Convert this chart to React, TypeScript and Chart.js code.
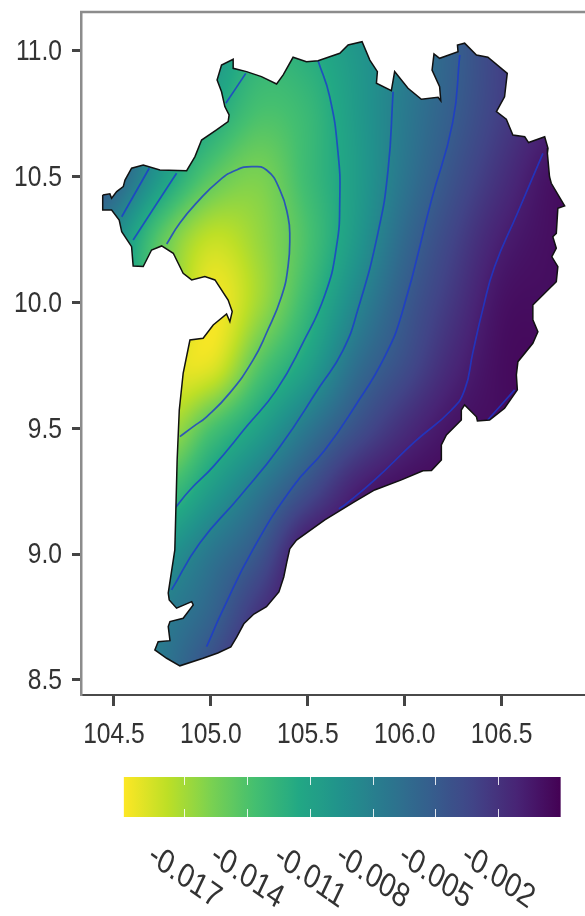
import React, { useEffect, useRef } from "react";
import { Chart, registerables } from "chart.js";

Chart.register(...registerables);

const xTicks = [104.5, 105.0, 105.5, 106.0, 106.5];
const yTicks = [8.5, 9.0, 9.5, 10.0, 10.5, 11.0];
const legendTicks = [-0.017, -0.014, -0.011, -0.008, -0.005, -0.002];
const legendMin = -0.0199;
const legendMax = 0.001;

const outlineLon = [104.442,104.479,104.488,104.514,104.548,104.557,104.591,104.651,104.737,104.875,104.918,104.952,105.029,105.089,105.094,105.072,105.055,105.032,105.055,105.115,105.115,105.184,105.261,105.339,105.373,105.424,105.493,105.553,105.665,105.708,105.780,105.820,105.859,105.854,105.931,105.948,106.017,106.086,106.172,106.186,106.180,106.141,106.151,106.180,106.275,106.272,106.309,106.370,106.429,106.529,106.515,106.473,106.524,106.558,106.619,106.639,106.722,106.739,106.736,106.747,106.756,106.825,106.790,106.782,106.764,106.782,106.759,106.790,106.782,106.661,106.661,106.687,106.661,106.584,106.576,106.581,106.515,106.438,106.375,106.370,106.309,106.292,106.292,106.215,106.189,106.189,106.138,106.094,105.983,105.845,105.742,105.588,105.442,105.407,105.392,105.376,105.351,105.287,105.222,105.170,105.134,105.103,105.036,104.960,104.840,104.772,104.711,104.728,104.789,104.780,104.789,104.857,104.909,104.901,104.823,104.785,104.780,104.814,104.826,104.837,104.857,104.892,104.960,105.012,105.081,105.098,105.110,105.089,105.021,104.969,104.901,104.857,104.806,104.746,104.694,104.651,104.599,104.591,104.540,104.527,104.488,104.442,104.442];
const outlineLat = [10.428,10.432,10.415,10.441,10.461,10.487,10.534,10.547,10.527,10.524,10.580,10.646,10.686,10.719,10.746,10.779,10.838,10.885,10.944,10.967,10.931,10.918,10.898,10.869,10.905,10.975,10.957,10.961,10.991,11.024,11.037,10.964,10.918,10.872,10.842,10.918,10.852,10.808,10.816,10.802,10.858,10.924,10.988,10.971,10.997,11.024,11.031,10.984,10.975,10.911,10.818,10.759,10.729,10.666,10.659,10.636,10.659,10.613,10.593,10.500,10.474,10.384,10.375,10.275,10.262,10.216,10.182,10.143,10.083,9.990,9.931,9.884,9.838,9.765,9.712,9.653,9.580,9.533,9.529,9.546,9.593,9.573,9.533,9.474,9.434,9.374,9.332,9.331,9.295,9.255,9.209,9.136,9.056,9.021,8.969,8.909,8.850,8.791,8.762,8.723,8.671,8.631,8.607,8.586,8.556,8.586,8.619,8.652,8.656,8.712,8.732,8.745,8.798,8.811,8.785,8.818,8.845,9.017,9.374,9.573,9.719,9.851,9.858,9.911,9.955,9.924,9.964,10.010,10.090,10.103,10.090,10.116,10.196,10.225,10.209,10.143,10.145,10.222,10.282,10.328,10.368,10.368,10.428];

const contour1Lon = [104.772,104.840,104.926,105.046,105.132,105.210,105.287,105.356,105.398,105.407,105.398,105.364,105.287,105.218,105.098,104.978,104.909,104.840];
const contour1Lat = [10.233,10.316,10.396,10.487,10.527,10.540,10.527,10.448,10.341,10.262,10.143,10.023,9.879,9.772,9.641,9.546,9.507,9.467];
const contour2Lon = [105.553,105.613,105.656,105.665,105.648,105.588,105.474,105.339,105.184,105.012,104.892,104.814];
const contour2Lat = [10.961,10.818,10.595,10.408,10.222,10.030,9.839,9.653,9.507,9.348,9.255,9.182];
const contour2bLon = [104.823,104.599];
const contour2bLat = [10.514,10.249];
const contour2cLon = [105.180,105.077];
const contour2cLat = [10.911,10.792];
const contour3Lon = [105.940,105.914,105.862,105.758,105.680,105.562,105.356,105.149,104.943,104.797];
const contour3Lat = [10.838,10.527,10.277,9.971,9.808,9.666,9.427,9.229,9.044,8.858];
const contour3bLon = [104.682,104.540];
const contour3bLat = [10.534,10.341];
const contour4Lon = [106.284,106.247,106.138,105.991,105.897,105.742,105.588,105.423,105.216,105.062,104.978];
const contour4Lat = [10.984,10.714,10.408,9.971,9.785,9.586,9.414,9.268,9.017,8.778,8.632];
const contour5Lon = [106.713,106.582,106.464,106.402,106.351,106.309,106.241,106.052,105.845,105.691,105.660];
const contour5Lat = [10.593,10.356,10.143,9.971,9.800,9.653,9.573,9.447,9.295,9.196,9.180];
const contour6Lon = [106.567,106.428];
const contour6Lat = [9.653,9.533];

const fieldLons = [104.25,104.5,104.75,105.0,105.25,105.5,105.75,106.0,106.25,106.5,106.75,107.0];
const fieldLats = [11.25,11.0,10.75,10.5,10.25,10.0,9.75,9.5,9.25,9.0,8.75,8.5];
const row1125 = [0,-0.002,-0.004,-0.007,-0.0095,-0.01,-0.0085,-0.007,-0.005,-0.003,-0.001,0];
const row1100 = [-0.001,-0.003,-0.006,-0.0095,-0.0122,-0.0119,-0.00995,-0.0077,-0.0054,-0.003,-0.001,0];
const row1075 = [-0.003,-0.005,-0.0088,-0.0114,-0.0138,-0.013,-0.0103,-0.0075,-0.0051,-0.0028,-0.001,-0.0005];
const row1050 = [-0.003,-0.0055,-0.0105,-0.0144,-0.0157,-0.0132,-0.0105,-0.0071,-0.0043,-0.0019,0,0.0005];
const row1025 = [-0.005,-0.009,-0.0147,-0.018,-0.0166,-0.0138,-0.0101,-0.0061,-0.0032,-0.0008,0.0002,0.0005];
const row1000 = [-0.006,-0.01,-0.015,-0.0195,-0.0169,-0.0129,-0.0086,-0.005,-0.0023,0,0.0003,0.0005];
const row975 = [-0.007,-0.012,-0.018,-0.019,-0.0143,-0.0109,-0.0066,-0.0039,-0.0013,0.0003,0.0005,0.0005];
const row950 = [-0.008,-0.013,-0.0172,-0.0139,-0.0108,-0.0073,-0.0042,-0.0017,-0.0001,0.0003,0.0005,0.0005];
const row925 = [-0.008,-0.013,-0.0136,-0.0104,-0.0072,-0.0039,-0.0008,0.0003,0.0005,0.0005,0.0005,0.0005];
const row900 = [-0.009,-0.012,-0.01,-0.0072,-0.0045,0,0.0005,0.0005,0.0005,0.0005,0.0005,0.0005];
const row875 = [-0.009,-0.0105,-0.0079,-0.0056,-0.002,0.0003,0.0005,0.0005,0.0005,0.0005,0.0005,0.0005];
const row850 = [-0.009,-0.01,-0.0072,-0.0037,-0.0005,0.0005,0.0005,0.0005,0.0005,0.0005,0.0005,0.0005];
const fieldRows = [row1125,row1100,row1075,row1050,row1025,row1000,row975,row950,row925,row900,row875,row850];

const viridis = ["#440154","#482475","#414487","#355f8d","#2a788e","#21918c","#22a884","#44bf70","#7ad151","#bddf26","#fde725"];
const viridisRgb = viridis.map((h) => [parseInt(h.slice(1,3),16),parseInt(h.slice(3,5),16),parseInt(h.slice(5,7),16)]);

const FONT = '"Liberation Sans",Arial,sans-serif';
const INK = "#333333";
const SQUEEZE = 0.82;

function colorAt(v: number) {
  const t = Math.max(0, Math.min(1, (legendMax - v) / (legendMax - legendMin))) * (viridisRgb.length - 1);
  const i = Math.min(viridisRgb.length - 2, Math.floor(t));
  const f = t - i;
  const a = viridisRgb[i], b = viridisRgb[i + 1];
  return [a[0] + (b[0] - a[0]) * f, a[1] + (b[1] - a[1]) * f, a[2] + (b[2] - a[2]) * f];
}

function cr(p0: number, p1: number, p2: number, p3: number, t: number) {
  return 0.5 * (2 * p1 + (p2 - p0) * t + (2 * p0 - 5 * p1 + 4 * p2 - p3) * t * t + (3 * p1 - p0 - 3 * p2 + p3) * t * t * t);
}

function sampleField(lon: number, lat: number) {
  const nx = fieldLons.length, ny = fieldLats.length;
  const gx = Math.max(0, Math.min(nx - 1.001, (lon - fieldLons[0]) / (fieldLons[1] - fieldLons[0])));
  const gy = Math.max(0, Math.min(ny - 1.001, (fieldLats[0] - lat) / (fieldLats[0] - fieldLats[1])));
  const ix = Math.floor(gx), iy = Math.floor(gy);
  const fx = gx - ix, fy = gy - iy;
  const col: number[] = [];
  for (let j = -1; j <= 2; j++) {
    const r = fieldRows[Math.max(0, Math.min(ny - 1, iy + j))];
    col.push(cr(r[Math.max(0, ix - 1)], r[ix], r[Math.min(nx - 1, ix + 1)], r[Math.min(nx - 1, ix + 2)], fx));
  }
  return cr(col[0], col[1], col[2], col[3], fy);
}

function landPath(chart: any) {
  const p = new Path2D();
  const { x, y } = chart.scales;
  outlineLon.forEach((lon, i) => {
    const px = x.getPixelForValue(lon), py = y.getPixelForValue(outlineLat[i]);
    if (i === 0) p.moveTo(px, py); else p.lineTo(px, py);
  });
  p.closePath();
  return p;
}

const fieldPlugin = {
  id: "field",
  beforeDatasetsDraw(chart: any) {
    const { ctx, chartArea: a, scales } = chart;
    const w = Math.ceil(a.right - a.left), h = Math.ceil(a.bottom - a.top);
    const off = document.createElement("canvas");
    off.width = w; off.height = h;
    const oc = off.getContext("2d")!;
    const img = oc.createImageData(w, h);
    for (let j = 0; j < h; j++) {
      const lat = scales.y.getValueForPixel(a.top + j + 0.5);
      for (let i = 0; i < w; i++) {
        const lon = scales.x.getValueForPixel(a.left + i + 0.5);
        const c = colorAt(sampleField(lon, lat));
        const k = (j * w + i) * 4;
        img.data[k] = c[0]; img.data[k + 1] = c[1]; img.data[k + 2] = c[2]; img.data[k + 3] = 255;
      }
    }
    oc.putImageData(img, 0, 0);
    ctx.save();
    ctx.clip(landPath(chart));
    ctx.drawImage(off, a.left, a.top);
    ctx.restore();
  },
  beforeDatasetDraw(chart: any, args: any) {
    if (args.meta.dataset && args.meta.label !== "outline") {
      chart.ctx.save();
      chart.ctx.clip(landPath(chart));
    }
  },
  afterDatasetDraw(chart: any, args: any) {
    if (args.meta.dataset && args.meta.label !== "outline") chart.ctx.restore();
  },
  afterDraw(chart: any) {
    const { ctx, chartArea: a, scales } = chart;
    const ls = scales.legendX;
    ctx.save();
    // top panel rule
    ctx.strokeStyle = "#8c8c8c";
    ctx.lineWidth = 2.5;
    ctx.beginPath();
    ctx.moveTo(a.left - 1, a.top);
    ctx.lineTo(a.right, a.top);
    ctx.stroke();
    // axis labels, squeezed like the reference's narrow type
    ctx.fillStyle = INK;
    ctx.font = `30px ${FONT}`;
    ctx.textAlign = "center";
    ctx.textBaseline = "alphabetic";
    scales.x.ticks.forEach((t: any) => {
      ctx.save();
      ctx.translate(scales.x.getPixelForValue(t.value), 743);
      ctx.scale(SQUEEZE, 1);
      ctx.fillText(t.value.toFixed(1), 0, 0);
      ctx.restore();
    });
    ctx.textAlign = "right";
    ctx.textBaseline = "middle";
    scales.y.ticks.forEach((t: any) => {
      ctx.save();
      ctx.translate(62, scales.y.getPixelForValue(t.value) + 1);
      ctx.scale(SQUEEZE, 1);
      ctx.fillText(t.value.toFixed(1), 0, 0);
      ctx.restore();
    });
    // colour bar
    const x0 = ls.getPixelForValue(legendMin), x1 = ls.getPixelForValue(legendMax);
    const top = 777, bottom = 817;
    const g = ctx.createLinearGradient(x0, 0, x1, 0);
    for (let i = 0; i <= 40; i++) {
      const v = legendMin + ((legendMax - legendMin) * i) / 40;
      const c = colorAt(v);
      g.addColorStop(i / 40, `rgb(${c[0]},${c[1]},${c[2]})`);
    }
    ctx.fillStyle = g;
    ctx.fillRect(x0, top, x1 - x0, bottom - top);
    ctx.strokeStyle = "rgba(255,255,255,0.85)";
    ctx.lineWidth = 1;
    legendTicks.forEach((v) => {
      const px = Math.round(ls.getPixelForValue(v)) + 0.5;
      ctx.beginPath();
      ctx.moveTo(px, top); ctx.lineTo(px, top + 8);
      ctx.moveTo(px, bottom - 8); ctx.lineTo(px, bottom);
      ctx.stroke();
    });
    // rotated colour-bar labels
    ctx.fillStyle = INK;
    ctx.font = `34px ${FONT}`;
    ctx.textAlign = "center";
    ctx.textBaseline = "middle";
    legendTicks.forEach((v) => {
      ctx.save();
      ctx.translate(ls.getPixelForValue(v), 877);
      ctx.scale(SQUEEZE, 1);
      ctx.rotate((30 * Math.PI) / 180);
      ctx.fillText(v.toFixed(3), 0, 0);
      ctx.restore();
    });
    ctx.restore();
  },
};

function pts(lons: number[], lats: number[]) {
  return lons.map((x, i) => ({ x, y: lats[i] }));
}

const contourStyle = { borderColor: "rgba(28,58,205,0.8)", borderWidth: 1.7, pointRadius: 0, showLine: true, tension: 0.5, fill: false };

export default function App() {
  const ref = useRef<HTMLCanvasElement>(null);
  useEffect(() => {
    const chart = new Chart(ref.current!, {
      type: "scatter",
      data: {
        datasets: [
          { label: "outline", data: pts(outlineLon, outlineLat), borderColor: "#111111", borderWidth: 1.5, pointRadius: 0, showLine: true, tension: 0, order: 0 },
          { label: "c1", data: pts(contour1Lon, contour1Lat), ...contourStyle, order: 1 },
          { label: "c2", data: pts(contour2Lon, contour2Lat), ...contourStyle, order: 1 },
          { label: "c2b", data: pts(contour2bLon, contour2bLat), ...contourStyle, order: 1 },
          { label: "c2c", data: pts(contour2cLon, contour2cLat), ...contourStyle, order: 1 },
          { label: "c3", data: pts(contour3Lon, contour3Lat), ...contourStyle, order: 1 },
          { label: "c3b", data: pts(contour3bLon, contour3bLat), ...contourStyle, order: 1 },
          { label: "c4", data: pts(contour4Lon, contour4Lat), ...contourStyle, order: 1 },
          { label: "c5", data: pts(contour5Lon, contour5Lat), ...contourStyle, order: 1 },
          { label: "c6", data: pts(contour6Lon, contour6Lat), ...contourStyle, order: 1 },
        ],
      } as any,
      options: {
        animation: false,
        responsive: false,
        devicePixelRatio: 1,
        layout: { padding: { top: 12, left: 0, right: 0, bottom: 0 } },
        plugins: { legend: { display: false }, tooltip: { enabled: false }, title: { display: false } },
        scales: {
          x: {
            type: "linear",
            min: 104.33,
            max: 106.93,
            afterBuildTicks: (s: any) => { s.ticks = xTicks.map((value) => ({ value })); },
            afterFit: (s: any) => { s.height = 221; s.paddingLeft = 0; s.paddingRight = 0; },
            border: { display: true, color: "#4a4a4a", width: 2 },
            grid: { drawOnChartArea: false, drawTicks: true, tickLength: 11, tickColor: "#444444", tickWidth: 3 },
            ticks: { display: false, autoSkip: false },
          },
          y: {
            type: "linear",
            min: 8.44,
            max: 11.155,
            afterBuildTicks: (s: any) => { s.ticks = yTicks.map((value) => ({ value })); },
            afterFit: (s: any) => { s.width = 81; s.paddingTop = 0; s.paddingBottom = 0; },
            border: { display: true, color: "#8c8c8c", width: 2.5 },
            grid: { drawOnChartArea: false, drawTicks: true, tickLength: 9, tickColor: "#444444", tickWidth: 3 },
            ticks: { display: false, autoSkip: false },
          },
          legendX: { type: "linear", axis: "x", display: false, min: -0.02195, max: 0.002165 },
        },
      } as any,
      plugins: [fieldPlugin],
    });
    return () => chart.destroy();
  }, []);
  return (
    <div style={{ position: "absolute", left: 0, top: 0 }}>
      <canvas ref={ref} width={585} height={916} style={{ display: "block", filter: "blur(0.4px)" }} />
    </div>
  );
}
